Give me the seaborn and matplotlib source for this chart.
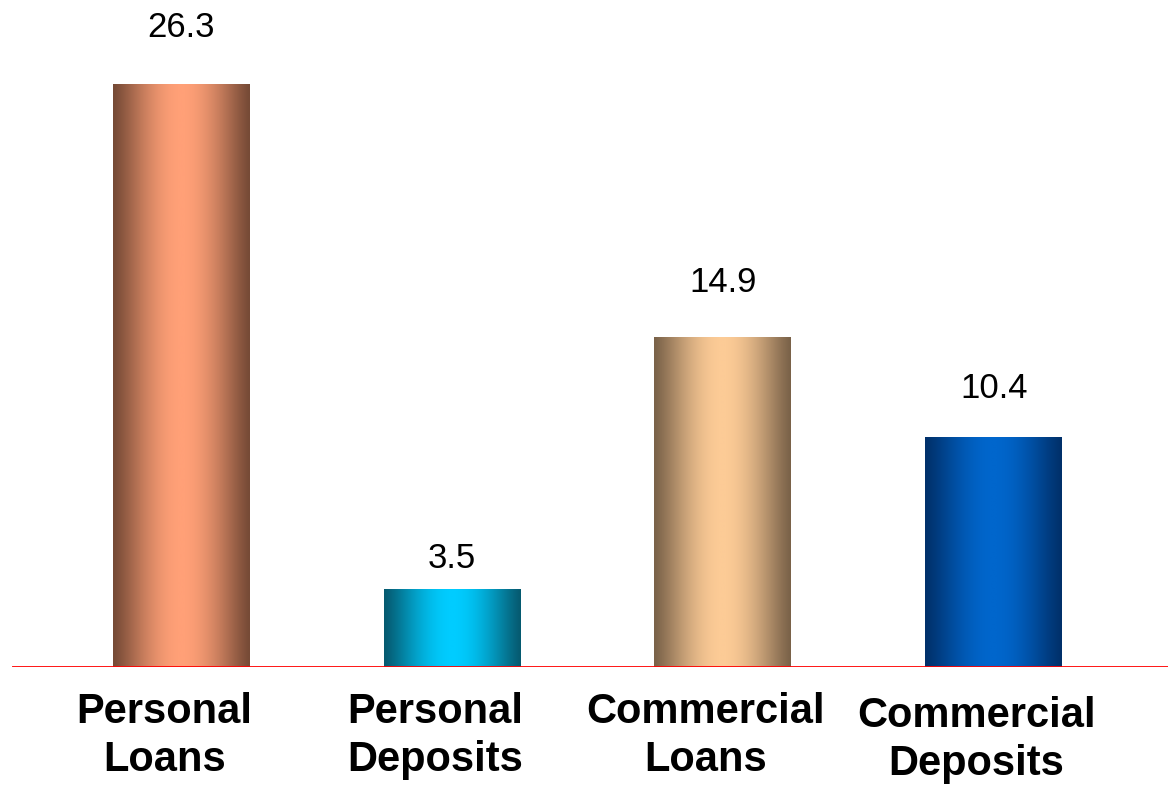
import numpy as np
import pandas as pd
import matplotlib
matplotlib.use("Agg")
import matplotlib.pyplot as plt
import matplotlib.transforms as mtransforms
from matplotlib.colors import LinearSegmentedColormap
import seaborn as sns

categories = ["Personal\nLoans", "Personal\nDeposits", "Commercial\nLoans", "Commercial\nDeposits"]
values = [26.3, 3.5, 14.9, 10.4]
value_labels = ["26.3", "3.5", "14.9", "10.4"]

# edge (dark) and centre (light) shade of each cylinder-like bar
edge_colors = ["#764a36", "#065a70", "#7a6249", "#00306a"]
center_colors = ["#ffa077", "#00ccff", "#fccb96", "#0066cc"]
label_gap_px = [40, 14, 38, 32]

sns.set_theme(style="white")
plt.rcParams["font.family"] = ["Liberation Sans", "DejaVu Sans"]

df = pd.DataFrame({"category": categories, "value": values})

fig = plt.figure(figsize=(11.68, 7.85), dpi=100)
ax = fig.add_axes([12 / 1168, 118 / 785, 1156 / 1168, 667 / 785])

sns.barplot(data=df, x="category", y="value", ax=ax, width=0.506,
            color="white", linewidth=0, saturation=1)

# horizontal shading across each bar, clipped to the bar rectangle
xs = np.linspace(0, 1, 256)
shade = np.sin(np.pi * xs) ** 1.2
for patch, c0, c1 in zip(ax.patches, edge_colors, center_colors):
    cmap = LinearSegmentedColormap.from_list("bar", [c0, c1])
    x0, y0 = patch.get_x(), patch.get_y()
    w, h = patch.get_width(), patch.get_height()
    im = ax.imshow(shade[np.newaxis, :], cmap=cmap, vmin=0, vmax=1,
                   extent=[x0, x0 + w, y0, y0 + h], aspect="auto",
                   interpolation="bilinear", zorder=2)
    im.set_clip_path(patch)

ax.set_xlim(-0.626, 3.644)
ax.set_ylim(0, 30.1)

for patch, txt, gap in zip(ax.patches, value_labels, label_gap_px):
    ax.annotate(txt, (patch.get_x() + patch.get_width() / 2, patch.get_height()),
                xytext=(0, gap), textcoords="offset pixels",
                ha="center", va="bottom", fontsize=25, color="black", zorder=3)

ax.axhline(0, color="#ff0000", lw=2.0, zorder=4)

for s in ax.spines.values():
    s.set_visible(False)
ax.set_xlabel("")
ax.set_ylabel("")
ax.set_yticks([])
ax.tick_params(axis="x", length=0, pad=18)
for i, lab in enumerate(ax.get_xticklabels()):
    lab.set_fontsize(30)
    lab.set_fontweight("bold")
    lab.set_color("black")
    lab.set_linespacing(1.25)
    dy = -4 if i == 3 else 0
    lab.set_transform(lab.get_transform() +
                      mtransforms.ScaledTranslation(-17 / 100, dy / 100, fig.dpi_scale_trans))

fig.savefig("out.png", dpi=100, facecolor="white")
